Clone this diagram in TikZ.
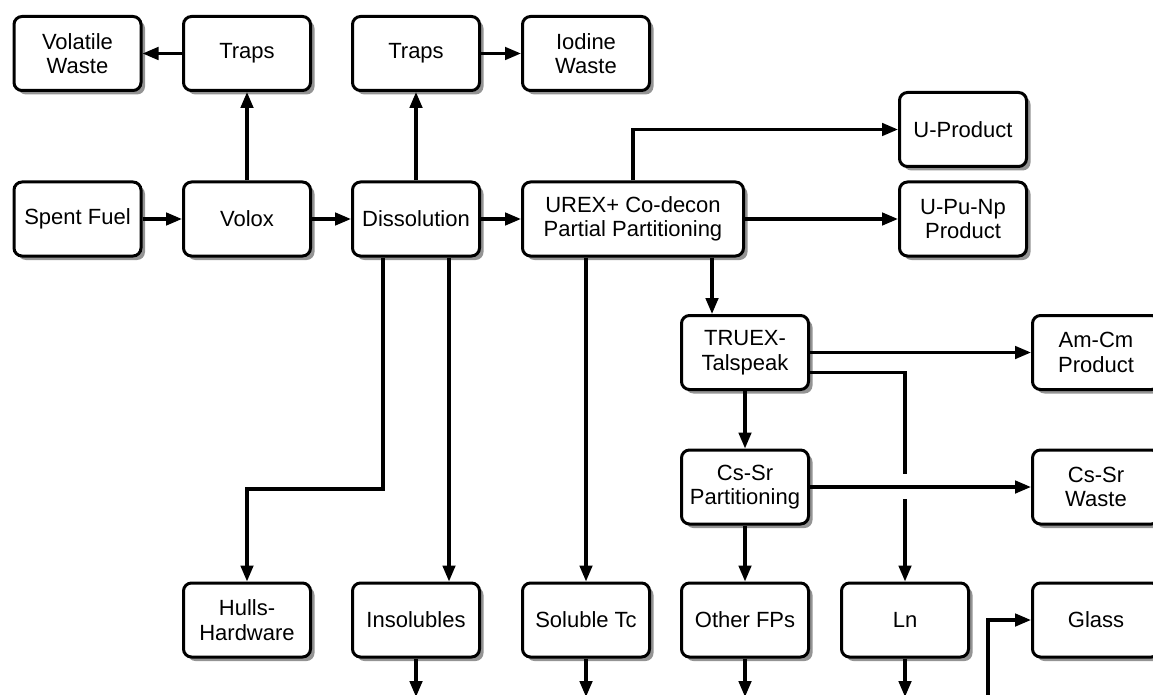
\documentclass[tikz,border=0pt]{standalone}
\usepackage{fontspec}
\setmainfont{Liberation Sans}
\usetikzlibrary{arrows.meta,shadows,calc}
\begin{document}
\begin{tikzpicture}[x=1pt,y=-1pt,
  box/.style={draw, line width=3pt, rounded corners=8pt, fill=white,
    minimum width=127pt, minimum height=74pt, inner sep=0pt, align=center,
    font=\fontsize{22}{24.5}\selectfont,
    drop shadow={shadow xshift=4pt, shadow yshift=-4pt, fill=black!42, opacity=1}},
  widebox/.style={box, minimum width=221pt},
  flow/.style={line width=3.2pt, -{Triangle[length=16pt,width=12.5pt]}},
  link/.style={line width=3.2pt}]
\useasboundingbox (0,0) rectangle (1153,695);

% process boxes
\node[box] (volatile) at (77.5,53.5) {Volatile\\Waste};
\node[box] (traps1) at (247,53.5) {Traps};
\node[box] (traps2) at (416,53.5) {Traps};
\node[box] (iodine) at (586,53.5) {Iodine\\Waste};
\node[box] (uprod) at (963,129.5) {U-Product};
\node[box] (spent) at (77.5,219) {Spent Fuel};
\node[box] (volox) at (247,219) {Volox};
\node[box] (dissolution) at (416,219) {Dissolution};
\node[widebox] (urex) at (633,219) {UREX+ Co-decon\\Partial Partitioning};
\node[box] (upu) at (963,219) {U-Pu-Np\\Product};
\node[box] (truex) at (745,352.5) {TRUEX-\\Talspeak};
\node[box] (amcm) at (1096,352.5) {Am-Cm\\Product};
\node[box] (cssr) at (745,487) {Cs-Sr\\Partitioning};
\node[box] (cswaste) at (1096,487) {Cs-Sr\\Waste};
\node[box] (hulls) at (247,620) {Hulls-\\Hardware};
\node[box] (insol) at (416,620) {Insolubles};
\node[box] (soltc) at (586,620) {Soluble Tc};
\node[box] (otherfp) at (745,620) {Other FPs};
\node[box] (ln) at (905,620) {Ln};
\node[box] (glass) at (1096,620) {Glass};

% helper points
\coordinate (bottom) at (0,697);
\coordinate (hullbend) at (0,489);
\coordinate (dsL) at ([xshift=32pt]dissolution.south west);
\coordinate (dsR) at ([xshift=-32pt]dissolution.south east);
\coordinate (tin) at ([xshift=32pt]truex.north west);
\coordinate (cross) at (ln.north |- cssr.east);
\coordinate (glassfeed) at (988,700);

% main line
\draw[flow] (spent) -- (volox);
\draw[flow] (volox) -- (dissolution);
\draw[flow] (dissolution) -- (urex);

% off-gas
\draw[flow] (volox) -- (traps1);
\draw[flow] (traps1) -- (volatile);
\draw[flow] (dissolution) -- (traps2);
\draw[flow] (traps2) -- (iodine);

% UREX outputs
\draw[flow] (urex.north) |- (uprod.west);
\draw[flow] (urex) -- (upu);
\draw[flow] (urex.south -| tin) -- (tin);
\draw[flow] (urex.south -| soltc.north) -- (soltc.north);

% dissolution residues
\draw[flow] (dsL) -- (dsL |- hullbend) -| (hulls.north);
\draw[flow] (dsR) -- (dsR |- insol.north);

% TRUEX / Cs-Sr
\draw[flow] (truex) -- (amcm);
\draw[link] ([yshift=-20pt]truex.east) -| ([yshift=13pt]cross);
\draw[flow] ([yshift=-12pt]cross) -- (ln.north);
\draw[flow] (truex) -- (cssr);
\draw[flow] (cssr) -- (cswaste);
\draw[flow] (cssr) -- (otherfp);

% outgoing streams
\draw[flow] (insol.south) -- (insol.south |- bottom);
\draw[flow] (soltc.south) -- (soltc.south |- bottom);
\draw[flow] (otherfp.south) -- (otherfp.south |- bottom);
\draw[flow] (ln.south) -- (ln.south |- bottom);
\draw[flow] (glassfeed) |- (glass.west);
\end{tikzpicture}
\end{document}
